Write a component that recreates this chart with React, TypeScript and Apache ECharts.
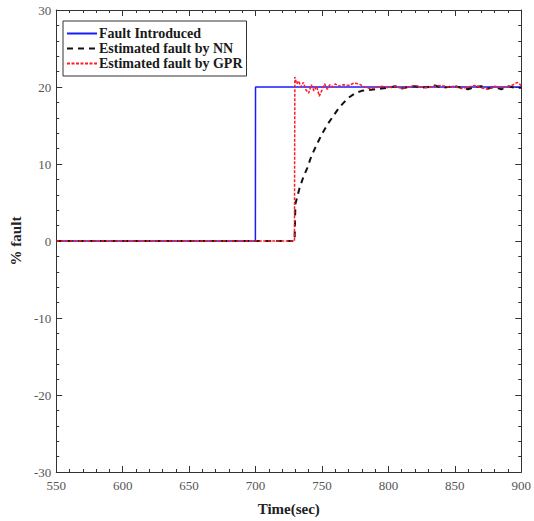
import React, { useEffect, useRef } from "react";
import * as echarts from "echarts";

const faultTime = [550, 699.9, 700, 900];
const faultValue = [0, 0, 20, 20];

const nnTime = [550, 729.4, 730, 733, 736, 739, 742, 746, 750, 754, 758, 762, 766, 770, 775, 780, 785, 790, 795, 800, 805, 810, 815, 820, 825, 830, 835, 840, 845, 850, 855, 860, 865, 870, 875, 880, 885, 890, 895, 900];
const nnValue = [0, 0, 4.8, 6.8, 8.3, 9.5, 11, 12.5, 13.9, 15.1, 16.1, 17.1, 17.9, 18.6, 19.2, 19.5, 19.6, 19.7, 19.8, 19.9, 20.1, 19.8, 20.0, 20.1, 19.9, 20.0, 20.2, 19.9, 20.0, 20.1, 19.9, 19.7, 20.0, 20.1, 19.8, 20.0, 19.7, 20.1, 19.9, 19.9];

const gprTime = [550, 729.3, 729.6, 731, 732.5, 734, 736, 738, 740, 742, 744, 746, 748, 750, 752, 754, 756, 758, 760, 763, 766, 770, 774, 778, 782, 786, 790, 795, 800, 805, 810, 815, 820, 825, 830, 835, 840, 845, 850, 855, 860, 865, 870, 875, 880, 885, 890, 894, 897, 900];
const gprValue = [0, 0, 21.3, 20.4, 20.8, 20.0, 20.6, 19.6, 19.2, 20.3, 19.5, 20.1, 18.8, 19.6, 20.4, 19.7, 20.3, 20.0, 20.4, 20.1, 20.3, 20.2, 20.5, 20.4, 20.0, 19.8, 19.9, 20.1, 19.9, 20.1, 19.8, 20.0, 20.2, 20.0, 19.9, 20.1, 20.2, 20.0, 20.1, 19.8, 20.0, 20.2, 19.9, 19.7, 20.1, 19.9, 20.0, 20.3, 20.6, 20.2];

const seriesNames = ["Fault Introduced", "Estimated fault by NN", "Estimated fault by GPR"];
const xTitle = "Time(sec)";
const yTitle = "% fault";

const zip = (a: number[], b: number[]) => a.map((v, i) => [v, b[i]]);

const FONT = "Liberation Serif";

export default function App() {
  const ref = useRef<HTMLDivElement>(null);
  useEffect(() => {
    if (!ref.current) return;
    const chart = echarts.init(ref.current, undefined, { renderer: "svg" });
    const axisLine = { show: true, onZero: false, lineStyle: { color: "#333", width: 1 } };
    const tick = { show: true, inside: true, length: 6, lineStyle: { color: "#333" } };
    const minor = { show: true, splitNumber: 5, length: 3, lineStyle: { color: "#333" } };
    chart.setOption({
      animation: false,
      backgroundColor: "#fff",
      grid: { left: 53, right: 9, top: 10, bottom: 43, containLabel: false },
      legend: {
        data: seriesNames,
        orient: "vertical",
        left: 63,
        top: 21,
        itemWidth: 30,
        itemHeight: 10,
        itemGap: 0,
        padding: [5, 4, 5, 3],
        borderColor: "#333",
        borderWidth: 1,
        backgroundColor: "#fff",
        itemStyle: { opacity: 0 },
        textStyle: { fontFamily: FONT, fontSize: 14, fontWeight: "bold", lineHeight: 15, color: "#1a1a1a", padding: [0, 0, 0, -3] },
      },
      xAxis: [
        {
          type: "value",
          min: 550,
          max: 900,
          interval: 50,
          name: xTitle,
          nameLocation: "middle",
          nameGap: 29,
          nameTextStyle: { fontFamily: FONT, fontSize: 15, fontWeight: "bold", color: "#222" },
          axisLine,
          axisTick: tick,
          minorTick: minor,
          splitLine: { show: false },
          axisLabel: { fontFamily: FONT, fontSize: 13, color: "#555", margin: 7 },
        },
        {
          type: "value",
          position: "top",
          min: 550,
          max: 900,
          interval: 50,
          axisLine,
          axisTick: tick,
          minorTick: minor,
          splitLine: { show: false },
          axisLabel: { show: false },
        },
      ],
      yAxis: [
        {
          type: "value",
          min: -30,
          max: 30,
          interval: 10,
          name: yTitle,
          nameLocation: "middle",
          nameGap: 31,
          nameTextStyle: { fontFamily: FONT, fontSize: 15, fontWeight: "bold", color: "#222" },
          axisLine,
          axisTick: tick,
          minorTick: minor,
          splitLine: { show: false },
          axisLabel: { fontFamily: FONT, fontSize: 13, color: "#555", margin: 5 },
        },
        {
          type: "value",
          position: "right",
          min: -30,
          max: 30,
          interval: 10,
          axisLine,
          axisTick: tick,
          minorTick: minor,
          splitLine: { show: false },
          axisLabel: { show: false },
        },
      ],
      series: [
        {
          name: seriesNames[0],
          type: "line",
          data: zip(faultTime, faultValue),
          symbol: "none",
          color: "#1a1aff",
          lineStyle: { color: "#1a1aff", width: 1.5 },
          z: 2,
        },
        {
          name: seriesNames[1],
          type: "line",
          data: zip(nnTime, nnValue),
          symbol: "none",
          color: "#111",
          lineStyle: { color: "#111", width: 2, type: [6, 5] },
          z: 3,
        },
        {
          name: seriesNames[2],
          type: "line",
          data: zip(gprTime, gprValue),
          symbol: "none",
          color: "#ff1a2a",
          lineStyle: { color: "#ff1a2a", width: 1.5, type: [3, 1.5] },
          z: 4,
        },
      ],
    });
    return () => chart.dispose();
  }, []);
  return <div ref={ref} style={{ width: 534, height: 521, position: "fixed", left: 0, top: 0 }} />;
}
